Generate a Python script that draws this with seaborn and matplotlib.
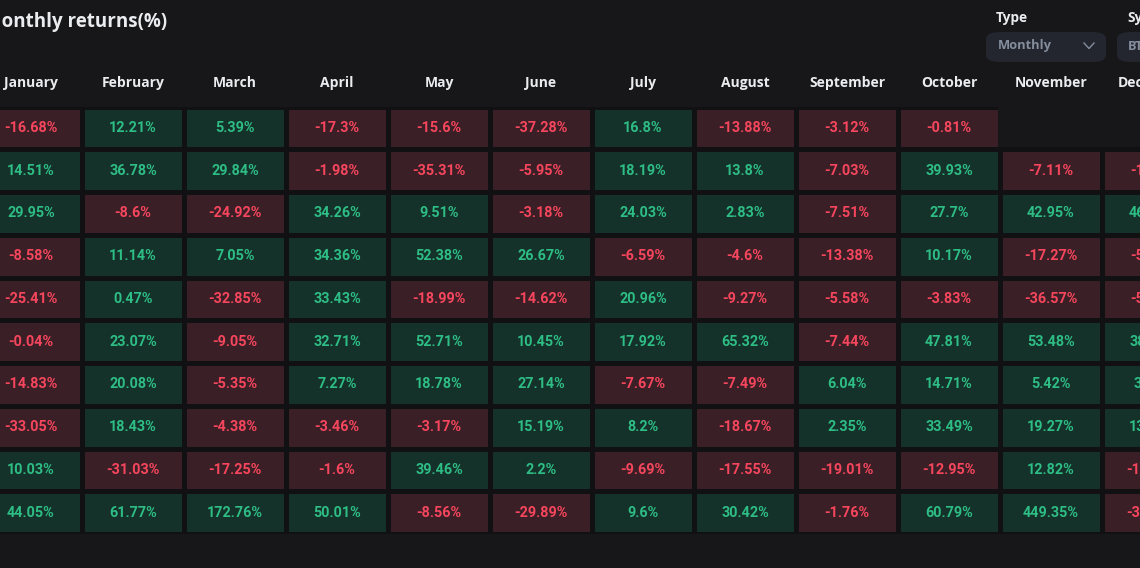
import numpy as np
import pandas as pd
import matplotlib
matplotlib.use("Agg")
import matplotlib.pyplot as plt
from matplotlib.colors import ListedColormap, to_rgba
from matplotlib.patches import FancyBboxPatch
from matplotlib.lines import Line2D
import seaborn as sns

months = ["January", "February", "March", "April", "May", "June", "July",
          "August", "September", "October", "November", "December"]
years = [2022, 2021, 2020, 2019, 2018, 2017, 2016, 2015, 2014, 2013]

r2022 = [-16.68, 12.21, 5.39, -17.3, -15.6, -37.28, 16.8, -13.88, -3.12, -0.81, np.nan, np.nan]
r2021 = [14.51, 36.78, 29.84, -1.98, -35.31, -5.95, 18.19, 13.8, -7.03, 39.93, -7.11, -18.9]
r2020 = [29.95, -8.6, -24.92, 34.26, 9.51, -3.18, 24.03, 2.83, -7.51, 27.7, 42.95, 46.92]
r2019 = [-8.58, 11.14, 7.05, 34.36, 52.38, 26.67, -6.59, -4.6, -13.38, 10.17, -17.27, -5.15]
r2018 = [-25.41, 0.47, -32.85, 33.43, -18.99, -14.62, 20.96, -9.27, -5.58, -3.83, -36.57, -5.58]
r2017 = [-0.04, 23.07, -9.05, 32.71, 52.71, 10.45, 17.92, 65.32, -7.44, 47.81, 53.48, 38.89]
r2016 = [-14.83, 20.08, -5.35, 7.27, 18.78, 27.14, -7.67, -7.49, 6.04, 14.71, 5.42, 30.8]
r2015 = [-33.05, 18.43, -4.38, -3.46, -3.17, 15.19, 8.2, -18.67, 2.35, 33.49, 19.27, 13.83]
r2014 = [10.03, -31.03, -17.25, -1.6, 39.46, 2.2, -9.69, -17.55, -19.01, -12.95, 12.82, -15.11]
r2013 = [44.05, 61.77, 172.76, 50.01, -8.56, -29.89, 9.6, 30.42, -1.76, 60.79, 449.35, -34.81]

returns = pd.DataFrame([r2022, r2021, r2020, r2019, r2018, r2017, r2016,
                        r2015, r2014, r2013], index=years, columns=months)

def fmt(v):
    if pd.isna(v):
        return ""
    return ("%.2f" % v).rstrip("0").rstrip(".") + "%"

labels = returns.map(fmt)
sign = (returns >= 0).astype(float).where(returns.notna())

BG = "#17171a"
GREEN_BG = "#14312a"
RED_BG = "#3b1f26"
GREEN_TX = "#2ebd85"
RED_TX = "#f6465d"
GAP = "#111113"

W, H = 1140, 568
fig = plt.figure(figsize=(W / 100, H / 100), dpi=100, facecolor=BG)

left_px, right_px, top_px, bot_px = -20, 1204, 106.5, 534
ax = fig.add_axes([left_px / W, 1 - bot_px / H, (right_px - left_px) / W, (bot_px - top_px) / H])
ax.set_facecolor(BG)

cmap = ListedColormap([RED_BG, GREEN_BG])
cmap.set_bad(BG)

sns.heatmap(sign, ax=ax, cmap=cmap, vmin=0, vmax=1,
            cbar=False, mask=returns.isna(), annot=labels.values, fmt="",
            linewidths=2.2, linecolor=GAP,
            annot_kws={"fontsize": 10.4, "fontfamily": "Roboto", "fontweight": "bold"})

# empty (future) cells: no border, plain page background
mesh = ax.collections[0]
missing = returns.isna().values.ravel()
edge = np.array([to_rgba(BG) if m else to_rgba(GAP) for m in missing])
mesh.set_edgecolor(edge)

for t in ax.texts:
    t.set_color(RED_TX if t.get_text().startswith("-") else GREEN_TX)

ax.xaxis.tick_top()
ax.set_xticklabels(months, rotation=0, color="#eaecef", fontsize=10,
                   fontfamily="Open Sans", fontweight="bold")
ax.tick_params(axis="x", length=0, pad=12)
ax.set_yticks([])
ax.set_xlabel("")
ax.set_ylabel("")
for s in ax.spines.values():
    s.set_visible(False)

# Title (partly cut off at left edge, as in the reference)
fig.text(-16 / W, 1 - 22 / H, "Monthly returns(%)", color="#eaecef", fontsize=13.5,
         fontfamily="Open Sans", fontweight="bold", ha="left", va="center")

# Controls at top right
fig.text(996 / W, 1 - 18 / H, "Type", color="#eaecef", fontsize=9.8,
         fontfamily="Open Sans", fontweight="bold", ha="left", va="center")
fig.text(1127 / W, 1 - 18 / H, "Symbol", color="#eaecef", fontsize=9.8,
         fontfamily="Open Sans", fontweight="bold", ha="left", va="center")
box_kw = dict(boxstyle="round,pad=0,rounding_size=0.012", transform=fig.transFigure,
              facecolor="#23252f", edgecolor="none")
fig.patches.append(FancyBboxPatch((986 / W, 1 - 62 / H), 120 / W, 30 / H, **box_kw))
fig.patches.append(FancyBboxPatch((1117 / W, 1 - 62 / H), 120 / W, 30 / H, **box_kw))
fig.text(998 / W, 1 - 46 / H, "Monthly", color="#848e9c", fontsize=9.3,
         fontfamily="Open Sans", fontweight="bold", ha="left", va="center")
fig.text(1128 / W, 1 - 46 / H, "BTC", color="#848e9c", fontsize=9.3,
         fontfamily="Open Sans", fontweight="bold", ha="left", va="center")
fig.lines.append(Line2D([1084 / W, 1089 / W, 1094 / W],
                        [1 - 43 / H, 1 - 48.5 / H, 1 - 43 / H],
                        transform=fig.transFigure, color="#848e9c", linewidth=1.0))

fig.savefig("out.png", dpi=100, facecolor=BG)
